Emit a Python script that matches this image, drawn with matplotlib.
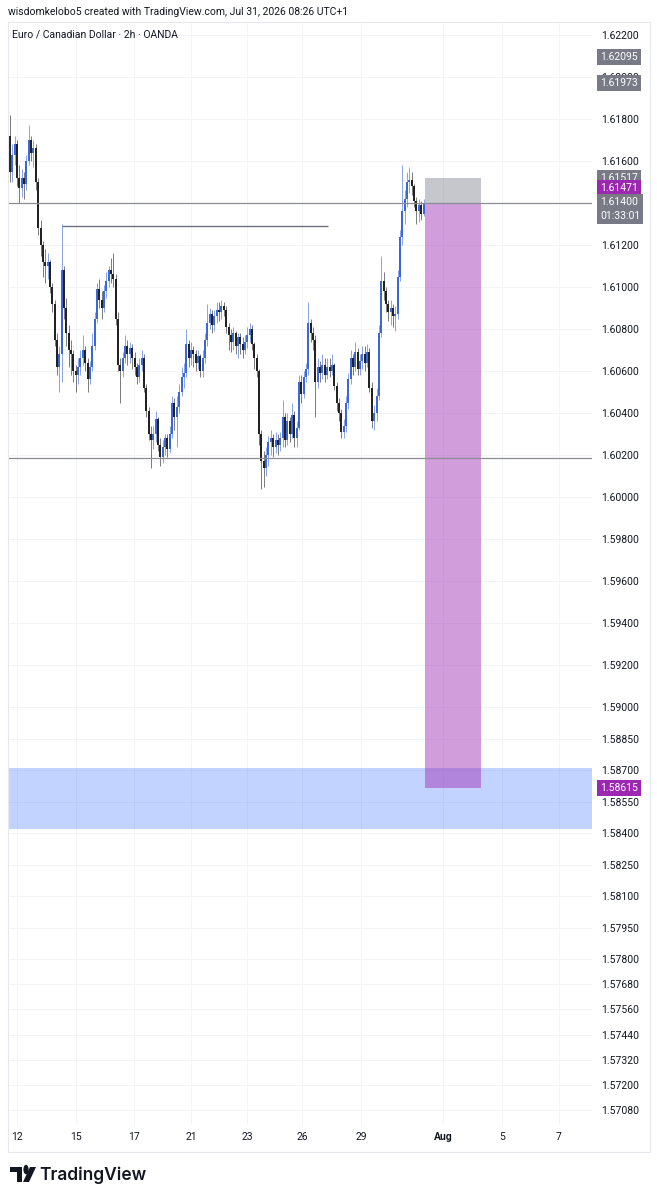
import numpy as np
import matplotlib.pyplot as plt
import matplotlib.transforms as mtransforms
from matplotlib.patches import Rectangle, Polygon, Circle
from matplotlib import font_manager

# EURCAD 2h candles
first_open = 1.6172
close = [1.6155, 1.6163, 1.6168, 1.6152, 1.6147, 1.6152, 1.6149, 1.6160, 1.6170, 1.6164,
         1.6166, 1.6150, 1.6128, 1.6120, 1.6112, 1.6110, 1.6112, 1.6100, 1.6092, 1.6075,
         1.6062, 1.6068, 1.6108, 1.6090, 1.6078, 1.6070, 1.6068, 1.6060, 1.6058, 1.6062,
         1.6066, 1.6070, 1.6064, 1.6056, 1.6062, 1.6072, 1.6085, 1.6099, 1.6094, 1.6090,
         1.6098, 1.6103, 1.6108, 1.6106, 1.6104, 1.6085, 1.6063, 1.6060, 1.6066, 1.6072,
         1.6068, 1.6071, 1.6066, 1.6062, 1.6057, 1.6063, 1.6066, 1.6052, 1.6041, 1.6030,
         1.6027, 1.6030, 1.6037, 1.6025, 1.6019, 1.6024, 1.6028, 1.6023, 1.6030, 1.6045,
         1.6038, 1.6043, 1.6050, 1.6057, 1.6059, 1.6073, 1.6066, 1.6070, 1.6068, 1.6064,
         1.6067, 1.6060, 1.6066, 1.6075, 1.6083, 1.6087, 1.6082, 1.6086, 1.6089, 1.6088,
         1.6091, 1.6089, 1.6081, 1.6077, 1.6074, 1.6078, 1.6072, 1.6076, 1.6073, 1.6070,
         1.6074, 1.6077, 1.6080, 1.6073, 1.6066, 1.6060, 1.6030, 1.6017, 1.6014, 1.6020,
         1.6026, 1.6028, 1.6024, 1.6027, 1.6025, 1.6028, 1.6038, 1.6027, 1.6036, 1.6030,
         1.6039, 1.6028, 1.6033, 1.6055, 1.6049, 1.6057, 1.6061, 1.6083, 1.6078, 1.6075,
         1.6055, 1.6062, 1.6059, 1.6063, 1.6058, 1.6062, 1.6060, 1.6063, 1.6053, 1.6045,
         1.6040, 1.6031, 1.6034, 1.6045, 1.6056, 1.6066, 1.6062, 1.6069, 1.6061, 1.6065,
         1.6068, 1.6064, 1.6069, 1.6052, 1.6036, 1.6040, 1.6048, 1.6078, 1.6103, 1.6098,
         1.6092, 1.6088, 1.6090, 1.6086, 1.6087, 1.6105, 1.6124, 1.6136, 1.6142, 1.6150,
         1.6151, 1.6148, 1.6141, 1.6136, 1.6139, 1.6135, 1.6140]
high = [1.6182, 1.6168, 1.6172, 1.6170, 1.6158, 1.6156, 1.6155, 1.6163, 1.6177, 1.6172,
        1.6170, 1.6168, 1.6152, 1.6132, 1.6122, 1.6118, 1.6116, 1.6113, 1.6102, 1.6094,
        1.6078, 1.6072, 1.6130, 1.6110, 1.6095, 1.6082, 1.6075, 1.6070, 1.6063, 1.6066,
        1.6070, 1.6077, 1.6072, 1.6066, 1.6065, 1.6078, 1.6088, 1.6102, 1.6104, 1.6098,
        1.6101, 1.6107, 1.6110, 1.6114, 1.6116, 1.6106, 1.6088, 1.6066, 1.6069, 1.6077,
        1.6075, 1.6074, 1.6073, 1.6069, 1.6064, 1.6066, 1.6070, 1.6068, 1.6054, 1.6043,
        1.6034, 1.6034, 1.6041, 1.6038, 1.6028, 1.6027, 1.6030, 1.6030, 1.6034, 1.6048,
        1.6047, 1.6048, 1.6054, 1.6062, 1.6064, 1.6080, 1.6075, 1.6074, 1.6072, 1.6070,
        1.6070, 1.6068, 1.6070, 1.6078, 1.6092, 1.6090, 1.6089, 1.6089, 1.6093, 1.6093,
        1.6094, 1.6093, 1.6091, 1.6083, 1.6080, 1.6081, 1.6079, 1.6078, 1.6078, 1.6076,
        1.6077, 1.6081, 1.6083, 1.6082, 1.6074, 1.6068, 1.6061, 1.6032, 1.6022, 1.6024,
        1.6029, 1.6032, 1.6030, 1.6031, 1.6030, 1.6031, 1.6046, 1.6040, 1.6040, 1.6038,
        1.6045, 1.6041, 1.6036, 1.6058, 1.6058, 1.6060, 1.6064, 1.6093, 1.6085, 1.6081,
        1.6077, 1.6066, 1.6065, 1.6068, 1.6066, 1.6066, 1.6066, 1.6068, 1.6064, 1.6055,
        1.6047, 1.6042, 1.6037, 1.6048, 1.6059, 1.6070, 1.6068, 1.6074, 1.6071, 1.6068,
        1.6072, 1.6072, 1.6073, 1.6071, 1.6055, 1.6044, 1.6052, 1.6082, 1.6115, 1.6107,
        1.6100, 1.6094, 1.6094, 1.6092, 1.6091, 1.6108, 1.6127, 1.6158, 1.6146, 1.6155,
        1.6157, 1.6155, 1.6149, 1.6143, 1.6142, 1.6141, 1.6142]
low = [1.6150, 1.6150, 1.6158, 1.6148, 1.6140, 1.6143, 1.6142, 1.6146, 1.6158, 1.6160,
       1.6157, 1.6146, 1.6125, 1.6115, 1.6105, 1.6102, 1.6104, 1.6097, 1.6088, 1.6072,
       1.6058, 1.6050, 1.6055, 1.6085, 1.6072, 1.6062, 1.6058, 1.6055, 1.6050, 1.6054,
       1.6058, 1.6063, 1.6060, 1.6050, 1.6054, 1.6060, 1.6070, 1.6083, 1.6090, 1.6085,
       1.6088, 1.6095, 1.6100, 1.6102, 1.6100, 1.6082, 1.6060, 1.6045, 1.6057, 1.6064,
       1.6063, 1.6064, 1.6061, 1.6058, 1.6054, 1.6055, 1.6060, 1.6050, 1.6038, 1.6027,
       1.6014, 1.6023, 1.6026, 1.6022, 1.6015, 1.6016, 1.6020, 1.6019, 1.6021, 1.6028,
       1.6032, 1.6024, 1.6040, 1.6048, 1.6052, 1.6057, 1.6062, 1.6063, 1.6062, 1.6060,
       1.6061, 1.6057, 1.6057, 1.6064, 1.6072, 1.6080, 1.6078, 1.6079, 1.6083, 1.6084,
       1.6085, 1.6086, 1.6078, 1.6070, 1.6069, 1.6070, 1.6068, 1.6066, 1.6068, 1.6066,
       1.6068, 1.6071, 1.6074, 1.6070, 1.6061, 1.6057, 1.6025, 1.6004, 1.6005, 1.6010,
       1.6015, 1.6020, 1.6019, 1.6021, 1.6020, 1.6022, 1.6024, 1.6024, 1.6025, 1.6026,
       1.6028, 1.6024, 1.6024, 1.6032, 1.6045, 1.6047, 1.6055, 1.6058, 1.6074, 1.6070,
       1.6038, 1.6052, 1.6055, 1.6056, 1.6055, 1.6056, 1.6057, 1.6058, 1.6051, 1.6041,
       1.6036, 1.6028, 1.6028, 1.6031, 1.6042, 1.6054, 1.6058, 1.6060, 1.6058, 1.6058,
       1.6061, 1.6060, 1.6062, 1.6050, 1.6033, 1.6032, 1.6036, 1.6046, 1.6076, 1.6094,
       1.6088, 1.6084, 1.6082, 1.6081, 1.6079, 1.6085, 1.6103, 1.6120, 1.6130, 1.6138,
       1.6145, 1.6144, 1.6138, 1.6130, 1.6131, 1.6132, 1.6134]

date_labels = ['12', '15', '17', '21', '23', '26', '29', 'Aug', '5', '7']
date_bars = [3.0, 28.1, 52.8, 77.0, 100.9, 124.3, 149.4, 184.3, 209.4, 233.6]

price_ticks = [1.62200, 1.62000, 1.61800, 1.61600, 1.61200, 1.61000, 1.60800, 1.60600,
               1.60400, 1.60200, 1.60000, 1.59800, 1.59600, 1.59400, 1.59200, 1.59000,
               1.58850, 1.58700, 1.58550, 1.58400, 1.58250, 1.58100, 1.57950, 1.57800,
               1.57680, 1.57560, 1.57440, 1.57320, 1.57200, 1.57080]

level_top = 1.6140      # full width line
level_mid = 1.6129      # short line from the spike
level_low = 1.60185     # full width line
zone_low, zone_high = 1.5842, 1.5871
entry, stop, target = 1.6140, 1.61517, 1.58615

# price scale tags: (value, colour)
tags = [(1.62095, '#787b86'), (1.61973, '#787b86'), (1.61517, '#787b86'),
        (1.61471, '#9c27b0'), (1.58615, '#9c27b0')]
last_price = 1.61400
countdown = '01:33:01'

names = {f.name for f in font_manager.fontManager.ttflist}
narrow = 'Liberation Sans Narrow' if 'Liberation Sans Narrow' in names else 'Roboto'
plt.rcParams['font.family'] = [narrow, 'DejaVu Sans']

W, H = 657, 1200
fig = plt.figure(figsize=(W / 100, H / 100), dpi=100)
fig.patch.set_facecolor('white')


def fx(px):
    return px / W


def fy(py):
    return 1 - py / H


ax = fig.add_axes([fx(8), fy(1125), fx(592) - fx(8), fy(22) - fy(1125)])
ax.set_xlim(-0.85, 247.7)
ax.set_ylim(1.57010, 1.62262)
for s in ax.spines.values():
    s.set_visible(False)

ax.set_yticks(price_ticks)
ax.set_yticklabels(['%.5f' % p for p in price_ticks])
ax.yaxis.tick_right()
ax.tick_params(axis='y', length=0, pad=6.5, labelsize=7.5, labelcolor='#131722')
ax.set_xticks(date_bars)
ax.set_xticklabels(date_labels)
ax.tick_params(axis='x', length=0, pad=5, labelsize=7.5, labelcolor='#131722')
for t in ax.get_xticklabels():
    if t.get_text() == 'Aug':
        t.set_fontweight('bold')
ax.grid(color='#f3f4f7', lw=0.7)
ax.set_axisbelow(True)

# candles
opens = [first_open] + close[:-1]
x = np.arange(len(close))
o = np.array(opens)
c = np.array(close)
up = c >= o
cols = np.where(up, '#3a68dc', '#222222')
ax.vlines(x, low, high, colors=cols, lw=0.7, alpha=0.6, zorder=3)
ax.bar(x, np.maximum(np.abs(c - o), 0.00003), bottom=np.minimum(o, c), width=0.85,
       color=cols, lw=0, zorder=4)

# levels
ax.axhline(level_top, color='#8a8d96', lw=0.9, zorder=5)
ax.axhline(level_low, color='#8a8d96', lw=0.9, zorder=5)
ax.hlines(level_mid, 22, 135.3, color='#6f727c', lw=1.0, zorder=5)

# demand zone
ax.axhspan(zone_low, zone_high, color='#2962ff', alpha=0.28, lw=0, zorder=1)

# short position tool
x0, x1 = 176.6, 200.4
ax.add_patch(Rectangle((x0, entry), x1 - x0, stop - entry, color='#787b86', alpha=0.42,
                       lw=0, zorder=2))
ax.add_patch(Rectangle((x0, target), x1 - x0, entry - target, color='#9c27b0', alpha=0.45,
                       lw=0, zorder=2))

# price scale tags
trans = mtransforms.blended_transform_factory(ax.transAxes, ax.transData)
tx = 1 + (600 - 592) / 584
for val, col in tags:
    ax.text(tx, val, '%.5f' % val, transform=trans, ha='left', va='center', fontsize=7.5,
            color='white', clip_on=False, zorder=10,
            bbox=dict(boxstyle='square,pad=0.3', fc=col, ec='none'))
ax.text(tx, last_price, '%.5f\n%s' % (last_price, countdown),
        transform=mtransforms.offset_copy(trans, fig, y=6, units='dots'),
        ha='left', va='top', fontsize=7.5, color='white', linespacing=1.5,
        clip_on=False, zorder=11,
        bbox=dict(boxstyle='square,pad=0.3', fc='#787b86', ec='none'))

# header texts
fig.text(fx(8), fy(12), 'wisdomkelobo5 created with TradingView.com, Jul 31, 2026 08:26 UTC+1',
         fontsize=7.5, color='#131722', va='center', ha='left')
fig.text(fx(12), fy(35), 'Euro / Canadian Dollar · 2h · OANDA', fontsize=7.5,
         color='#131722', va='center', ha='left')

# panel border
fig.add_artist(Rectangle((fx(8), fy(1152)), fx(650) - fx(8), fy(22) - fy(1152),
                         transform=fig.transFigure, fill=False, ec='#e6e8ee', lw=0.8))

# TradingView logo
k = '#131722'
fig.add_artist(Polygon([(fx(10), fy(1167)), (fx(22), fy(1167)), (fx(22), fy(1182)),
                        (fx(17), fy(1182)), (fx(17), fy(1172)), (fx(10), fy(1172))],
                       closed=True, transform=fig.transFigure, fc=k, ec='none'))
fig.add_artist(Circle((fx(26), fy(1169.5)), 2.6 / W, transform=fig.transFigure, fc=k, ec='none'))
fig.add_artist(Polygon([(fx(30), fy(1167)), (fx(36), fy(1167)), (fx(29), fy(1182)),
                        (fx(23), fy(1182))], closed=True, transform=fig.transFigure,
                       fc=k, ec='none'))
fig.text(fx(39), fy(1175), 'TradingView', fontsize=12.5, fontweight='semibold',
         family=['Inter', 'DejaVu Sans'], color=k, va='center', ha='left')

fig.savefig('out.png', dpi=100, facecolor='white')
